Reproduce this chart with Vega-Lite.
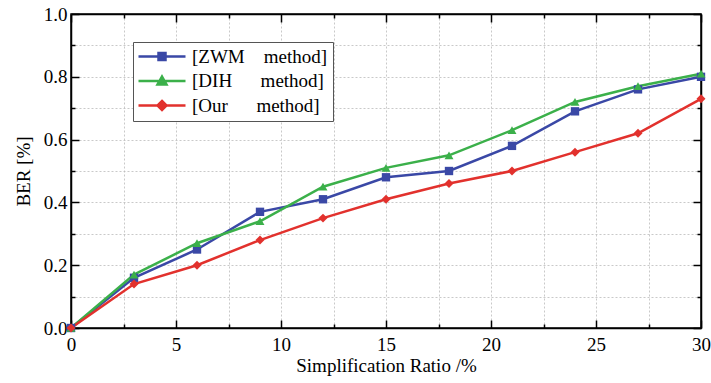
{
  "$schema": "https://vega.github.io/schema/vega-lite/v6.json",
  "width": 630,
  "height": 314,
  "autosize": {"type": "none"},
  "padding": {"left": 71, "top": 14, "right": 10, "bottom": 55},
  "background": "white",
  "config": {
    "font": "Liberation Serif",
    "view": {"stroke": "black", "strokeWidth": 1.5},
    "style": {
      "guide-label": {"font": "Liberation Serif", "fill": "black"},
      "guide-title": {"font": "Liberation Serif", "fill": "black"}
    },
    "axis": {
      "labelFont": "Liberation Serif",
      "titleFont": "Liberation Serif",
      "labelColor": "black",
      "titleColor": "black",
      "labelFontSize": 19,
      "titleFontSize": 19,
      "titleFontWeight": "normal",
      "labelFlush": false,
      "labelOverlap": false,
      "domainColor": "black",
      "domainWidth": 1.5,
      "tickColor": "black",
      "tickWidth": 1.5,
      "gridColor": "#bbbbbb",
      "gridDash": [2, 2],
      "gridWidth": 0.8
    },
    "legend": {
      "labelFont": "Liberation Serif",
      "labelFontSize": 19,
      "labelColor": "black"
    }
  },
  "data": {
    "values": [
      {"x": 0, "y": 0, "s": "ZWM"},
      {"x": 3, "y": 0.16, "s": "ZWM"},
      {"x": 6, "y": 0.25, "s": "ZWM"},
      {"x": 9, "y": 0.37, "s": "ZWM"},
      {"x": 12, "y": 0.41, "s": "ZWM"},
      {"x": 15, "y": 0.48, "s": "ZWM"},
      {"x": 18, "y": 0.50, "s": "ZWM"},
      {"x": 21, "y": 0.58, "s": "ZWM"},
      {"x": 24, "y": 0.69, "s": "ZWM"},
      {"x": 27, "y": 0.76, "s": "ZWM"},
      {"x": 30, "y": 0.80, "s": "ZWM"},
      {"x": 0, "y": 0, "s": "DIH"},
      {"x": 3, "y": 0.17, "s": "DIH"},
      {"x": 6, "y": 0.27, "s": "DIH"},
      {"x": 9, "y": 0.34, "s": "DIH"},
      {"x": 12, "y": 0.45, "s": "DIH"},
      {"x": 15, "y": 0.51, "s": "DIH"},
      {"x": 18, "y": 0.55, "s": "DIH"},
      {"x": 21, "y": 0.63, "s": "DIH"},
      {"x": 24, "y": 0.72, "s": "DIH"},
      {"x": 27, "y": 0.77, "s": "DIH"},
      {"x": 30, "y": 0.81, "s": "DIH"},
      {"x": 0, "y": 0, "s": "Our"},
      {"x": 3, "y": 0.14, "s": "Our"},
      {"x": 6, "y": 0.20, "s": "Our"},
      {"x": 9, "y": 0.28, "s": "Our"},
      {"x": 12, "y": 0.35, "s": "Our"},
      {"x": 15, "y": 0.41, "s": "Our"},
      {"x": 18, "y": 0.46, "s": "Our"},
      {"x": 21, "y": 0.50, "s": "Our"},
      {"x": 24, "y": 0.56, "s": "Our"},
      {"x": 27, "y": 0.62, "s": "Our"},
      {"x": 30, "y": 0.73, "s": "Our"}
    ]
  },
  "resolve": {"axis": {"x": "independent", "y": "independent"}},
  "layer": [
    {
      "mark": {"type": "line", "strokeWidth": 2.5},
      "encoding": {
        "x": {
          "field": "x", "type": "quantitative",
          "scale": {"domain": [0, 30], "nice": false, "zero": false},
          "axis": {
            "title": "Simplification Ratio /%",
            "labelFont": "Liberation Serif",
            "titleFont": "Liberation Serif",
            "labelFlush": false,
            "values": [0, 2.5, 5, 7.5, 10, 12.5, 15, 17.5, 20, 22.5, 25, 27.5, 30],
            "labelExpr": "datum.value % 5 === 0 ? datum.label : ''",
            "tickSize": {"condition": {"test": "datum.value % 5 === 0", "value": -8}, "value": -4},
            "labelPadding": 15,
            "titlePadding": -2,
            "grid": true
          }
        },
        "y": {
          "field": "y", "type": "quantitative",
          "scale": {"domain": [0, 1], "nice": false},
          "axis": {
            "title": "BER [%]",
            "labelFont": "Liberation Serif",
            "titleFont": "Liberation Serif",
            "labelFlush": false,
            "values": [0, 0.1, 0.2, 0.3, 0.4, 0.5, 0.6, 0.7, 0.8, 0.9, 1.0],
            "format": ".1f",
            "labelExpr": "round(datum.value * 10) % 2 === 0 ? datum.label : ''",
            "tickSize": {"condition": {"test": "round(datum.value * 10) % 2 === 0", "value": -8}, "value": -4},
            "labelPadding": 12,
            "titlePadding": 10,
            "grid": true
          }
        },
        "color": {
          "field": "s", "type": "nominal",
          "scale": {"domain": ["ZWM", "DIH", "Our"], "range": ["#3a48a6", "#3bb04a", "#e2312d"]},
          "legend": {
            "title": null,
            "orient": "none",
            "legendX": 62,
            "legendY": 28,
            "padding": 5,
            "strokeColor": "#555555",
            "fillColor": "white",
            "symbolSize": 100,
            "symbolOffset": 3,
            "symbolStrokeWidth": 2.5,
            "labelOffset": 32,
            "rowPadding": 4.5,
            "labelFont": "Liberation Serif",
            "labelExpr": "datum.value === 'ZWM' ? '[ZWM\u00a0\u00a0\u00a0\u00a0method]' : datum.value === 'DIH' ? '[DIH\u00a0\u00a0\u00a0\u00a0\u00a0\u00a0method]' : '[Our\u00a0\u00a0\u00a0\u00a0\u00a0\u00a0method]'",
            "encoding": {
              "symbols": {
                "fill": {"condition": [{"test": "datum.value === 'ZWM'", "value": "#3a48a6"}, {"test": "datum.value === 'DIH'", "value": "#3bb04a"}], "value": "#e2312d"},
                "stroke": {"condition": [{"test": "datum.value === 'ZWM'", "value": "#3a48a6"}, {"test": "datum.value === 'DIH'", "value": "#3bb04a"}], "value": "#e2312d"},
                "shape": {"condition": [{"test": "datum.value === 'ZWM'", "value": "M-2.4,0H7M1.6,-0.7H3V0.7H1.6Z"}, {"test": "datum.value === 'DIH'", "value": "M-2.4,0H7M2.3,-0.9L3.2,0.7L1.4,0.7Z"}], "value": "M-2.4,0H7M2.3,-0.9L3.2,0L2.3,0.9L1.4,0Z"}
              }
            }
          }
        }
      }
    },
    {
      "transform": [{"filter": "datum.s === 'ZWM'"}],
      "mark": {"type": "point", "filled": true, "opacity": 1, "size": 70, "shape": "square", "color": "#3a48a6"},
      "encoding": {
        "x": {
          "field": "x", "type": "quantitative",
          "axis": {
            "orient": "top",
            "title": null,
            "labels": false,
            "grid": false,
            "values": [0, 2.5, 5, 7.5, 10, 12.5, 15, 17.5, 20, 22.5, 25, 27.5, 30],
            "tickSize": {"condition": {"test": "datum.value % 5 === 0", "value": -8}, "value": -4}
          }
        },
        "y": {
          "field": "y", "type": "quantitative",
          "axis": {
            "orient": "right",
            "title": null,
            "labels": false,
            "grid": false,
            "values": [0, 0.1, 0.2, 0.3, 0.4, 0.5, 0.6, 0.7, 0.8, 0.9, 1.0],
            "tickSize": {"condition": {"test": "round(datum.value * 10) % 2 === 0", "value": -8}, "value": -4}
          }
        }
      }
    },
    {
      "transform": [{"filter": "datum.s === 'DIH'"}],
      "mark": {"type": "point", "filled": true, "opacity": 1, "size": 80, "shape": "triangle-up", "color": "#3bb04a"},
      "encoding": {
        "x": {"field": "x", "type": "quantitative", "axis": null},
        "y": {"field": "y", "type": "quantitative", "axis": null}
      }
    },
    {
      "transform": [{"filter": "datum.s === 'Our'"}],
      "mark": {"type": "point", "filled": true, "opacity": 1, "size": 80, "shape": "diamond", "color": "#e2312d"},
      "encoding": {
        "x": {"field": "x", "type": "quantitative", "axis": null},
        "y": {"field": "y", "type": "quantitative", "axis": null}
      }
    }
  ]
}
